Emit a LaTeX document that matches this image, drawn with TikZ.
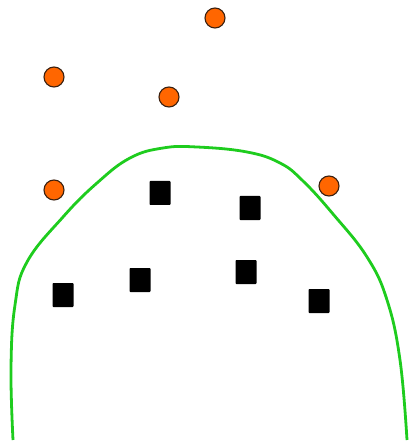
\documentclass[tikz,border=0pt]{standalone}
\usepackage{tikz}
\usetikzlibrary{positioning}
\usepackage{xcolor}
\definecolor{dotorange}{HTML}{FF6600}
\definecolor{dotrim}{HTML}{3A2010}
\definecolor{boundgreen}{HTML}{1ECC1E}

\begin{document}
\begin{tikzpicture}[
      x=1pt, y=-1pt,
      pebble/.style={circle, draw=dotrim, line width=1.1pt, fill=dotorange, minimum size=20pt, inner sep=0pt},
      block/.style={rectangle, fill=black, rounded corners=0.8pt, minimum width=21pt, minimum height=24pt, inner sep=0pt},
    ]
    \useasboundingbox (0,0) rectangle (408,443);
    % orange points
    \node[pebble] (o1) at (215,18) {};
    \node[pebble] (o2) at (54,77) {};
    \node[pebble] (o3) at (169,97) {};
    \node[pebble] (o4) at (54,190) {};
    \node[pebble] (o5) at (329,186) {};
    % black points
    \node[block] (b1) at (160,193) {};
    \node[block] (b2) at (250,208) {};
    \node[block] (b3) at (63,295) {};
    \node[block] (b4) at (140,280) {};
    \node[block] (b5) at (246,272) {};
    \node[block] (b6) at (319,301) {};
    % boundary
    \draw[boundgreen, line width=2.8pt] plot[smooth, tension=0.7] coordinates {
      (13,440) (11,368) (15,305) (27,262) (63,217) (97,183) (130,158)
      (163,148) (197,147) (247,152) (280,163) (303,181) (333,214)
      (367,257) (387,300) (400,360) (407,440)};
  \end{tikzpicture}
\end{document}
